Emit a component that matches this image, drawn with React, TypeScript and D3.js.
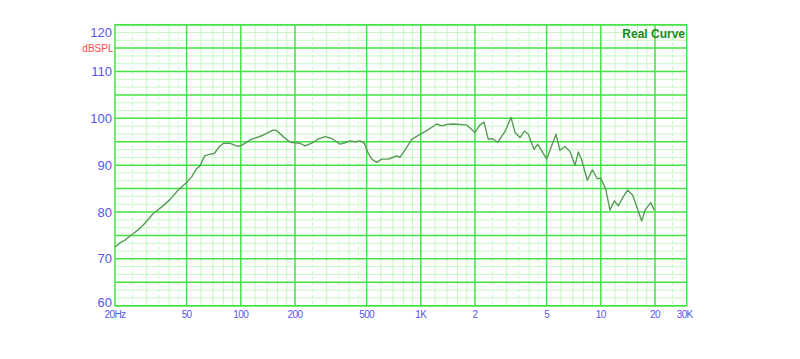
import React from "react";
import * as d3 from "d3";

const freqs = [
  20, 21.3, 22.7, 24.7, 27.5, 29.3, 32.6, 36.4, 40.5, 44.9,
  50, 53.3, 56.9, 59.2, 63, 66.7, 71.2, 76.1, 80.1, 86.6,
  96.3, 100.5, 114, 133, 151, 158, 172, 188, 213, 227,
  248, 269, 294, 320, 356, 379, 404, 431, 459, 485,
  511, 534, 569, 606, 660, 703, 735, 766, 817, 890,
  990, 1078, 1226, 1306, 1393, 1515, 1651, 1798, 2000, 2133,
  2244, 2371, 2496, 2675, 2937, 3170, 3336, 3557, 3758, 3956,
  4254, 4460, 5003, 5636, 5932, 6325, 6745, 7189, 7498, 7830,
  8414, 8970, 9560, 9986, 10646, 11247, 11882, 12506, 13335, 14104,
  15035, 15948, 16870, 17600, 18928, 19822,
];
const spl = [
  72.5, 73.4, 74, 75.1, 76.5, 77.6, 79.7, 81.1, 82.7, 84.7,
  86.3, 87.5, 89.3, 89.8, 92, 92.3, 92.5, 94, 94.7, 94.7,
  94, 94.2, 95.5, 96.4, 97.5, 97.4, 96.1, 94.9, 94.7, 94.1,
  94.7, 95.6, 96.1, 95.7, 94.5, 94.8, 95.2, 95, 95.2, 94.7,
  92.5, 91.3, 90.6, 91.3, 91.3, 91.7, 92, 91.7, 93.2, 95.5,
  96.6, 97.4, 98.8, 98.4, 98.7, 98.8, 98.7, 98.6, 97, 98.6,
  99.2, 95.5, 95.7, 94.9, 97.2, 100.2, 97, 95.9, 97.3, 96.6,
  93.4, 94.5, 91.3, 96.6, 93.2, 94, 92.9, 90, 92.8, 91.1,
  86.8, 89, 87.1, 87.2, 84.9, 80.4, 82.4, 81.3, 83.3, 84.7,
  83.6, 80.8, 78.1, 80.4, 82, 80.4,
];

const xTickValues = [20, 50, 100, 200, 500, 1000, 2000, 5000, 10000, 20000, 30000];
const xTickLabels = ["20Hz", "50", "100", "200", "500", "1K", "2", "5", "10", "20", "30K"];
const yTickValues = [120, 110, 100, 90, 80, 70, 60];
const majorFreqs = [50, 100, 200, 500, 1000, 2000, 5000, 10000, 20000];
const decades = [10, 100, 1000, 10000];
const minorMult = [1.2, 1.4, 1.6, 1.8, 3, 4, 6, 7, 8, 9];
const dashedMult = [2.5, 3.5, 4.5];

const W = 800;
const H = 359;
const L = 115;
const R = 686.7;
const T = 24.7;
const B = 305.7;

export default function App() {
  const x = d3.scaleLog().domain([20, 30000]).range([L, R]);
  const y = d3.scaleLinear().domain([60, 120]).range([B, T]);

  const minorV: number[] = [];
  const dashedV: number[] = [];
  decades.forEach((d) => {
    minorMult.forEach((m) => {
      const f = d * m;
      if (f > 20 && f < 30000) minorV.push(f);
    });
    dashedMult.forEach((m) => {
      const f = d * m;
      if (f > 20 && f < 30000) dashedV.push(f);
    });
  });
  dashedV.push(25000);

  const majorH: number[] = d3.range(60, 120.01, 5);
  const minorH: number[] = [];
  for (let v = 60; v < 120; v += 5) {
    minorH.push(v + 5 / 3, v + 10 / 3);
  }

  const line = d3
    .line<number>()
    .x((_, i) => x(freqs[i]))
    .y((d) => y(d));

  const major = "#44e244";
  const minor = "#c6f7c6";
  const blue = "#5656ee";

  return (
    <div style={{ position: "absolute", left: 0, top: 0 }}>
      <svg width={W} height={H} style={{ display: "block", background: "#fff" }}>
        <g>
          {minorH.map((v, i) => (
            <line key={"mh" + i} x1={L} x2={R} y1={y(v)} y2={y(v)} stroke={minor} strokeWidth={1} />
          ))}
          {minorV.map((f, i) => (
            <line key={"mv" + i} x1={x(f)} x2={x(f)} y1={T} y2={B} stroke={minor} strokeWidth={1} />
          ))}
          {dashedV.map((f, i) => (
            <line
              key={"dv" + i}
              x1={x(f)}
              x2={x(f)}
              y1={T}
              y2={B}
              stroke={minor}
              strokeWidth={1}
              strokeDasharray="3,3"
            />
          ))}
          {majorH.map((v, i) => (
            <line key={"Mh" + i} x1={L} x2={R} y1={y(v)} y2={y(v)} stroke={major} strokeWidth={1.5} />
          ))}
          {majorFreqs.map((f, i) => (
            <line key={"Mv" + i} x1={x(f)} x2={x(f)} y1={T} y2={B} stroke={major} strokeWidth={1.5} />
          ))}
          <rect x={L} y={T} width={R - L} height={B - T} fill="none" stroke={major} strokeWidth={1.5} />
        </g>
        <path d={line(spl) || ""} fill="none" stroke="#5a9a5a" strokeWidth={1.4} strokeLinejoin="round" />
        <g fontFamily="Arial, 'Liberation Sans', sans-serif">
          {yTickValues.map((v) => {
            let yy = y(v);
            if (v === 120) yy += 8;
            if (v === 60) yy -= 3.5;
            return (
              <text key={"yt" + v} x={112} y={yy} dy="0.35em" textAnchor="end" fontSize={13} fill={blue}>
                {v}
              </text>
            );
          })}
          <text x={113.5} y={y(115)} dy="0.35em" textAnchor="end" fontSize={10} fill="#ff4a4a">
            dBSPL
          </text>
          {xTickValues.map((f, i) => (
            <text
              key={"xt" + f}
              x={i === xTickValues.length - 1 ? x(f) - 2 : x(f)}
              y={314}
              dy="0.35em"
              textAnchor="middle"
              fontSize={10}
              letterSpacing={-0.6}
              fill={blue}
            >
              {xTickLabels[i]}
            </text>
          ))}
          <text x={685} y={34} dy="0.35em" textAnchor="end" fontSize={12} fontWeight="bold" fill="#1a8a1a">
            Real Curve
          </text>
        </g>
      </svg>
    </div>
  );
}
